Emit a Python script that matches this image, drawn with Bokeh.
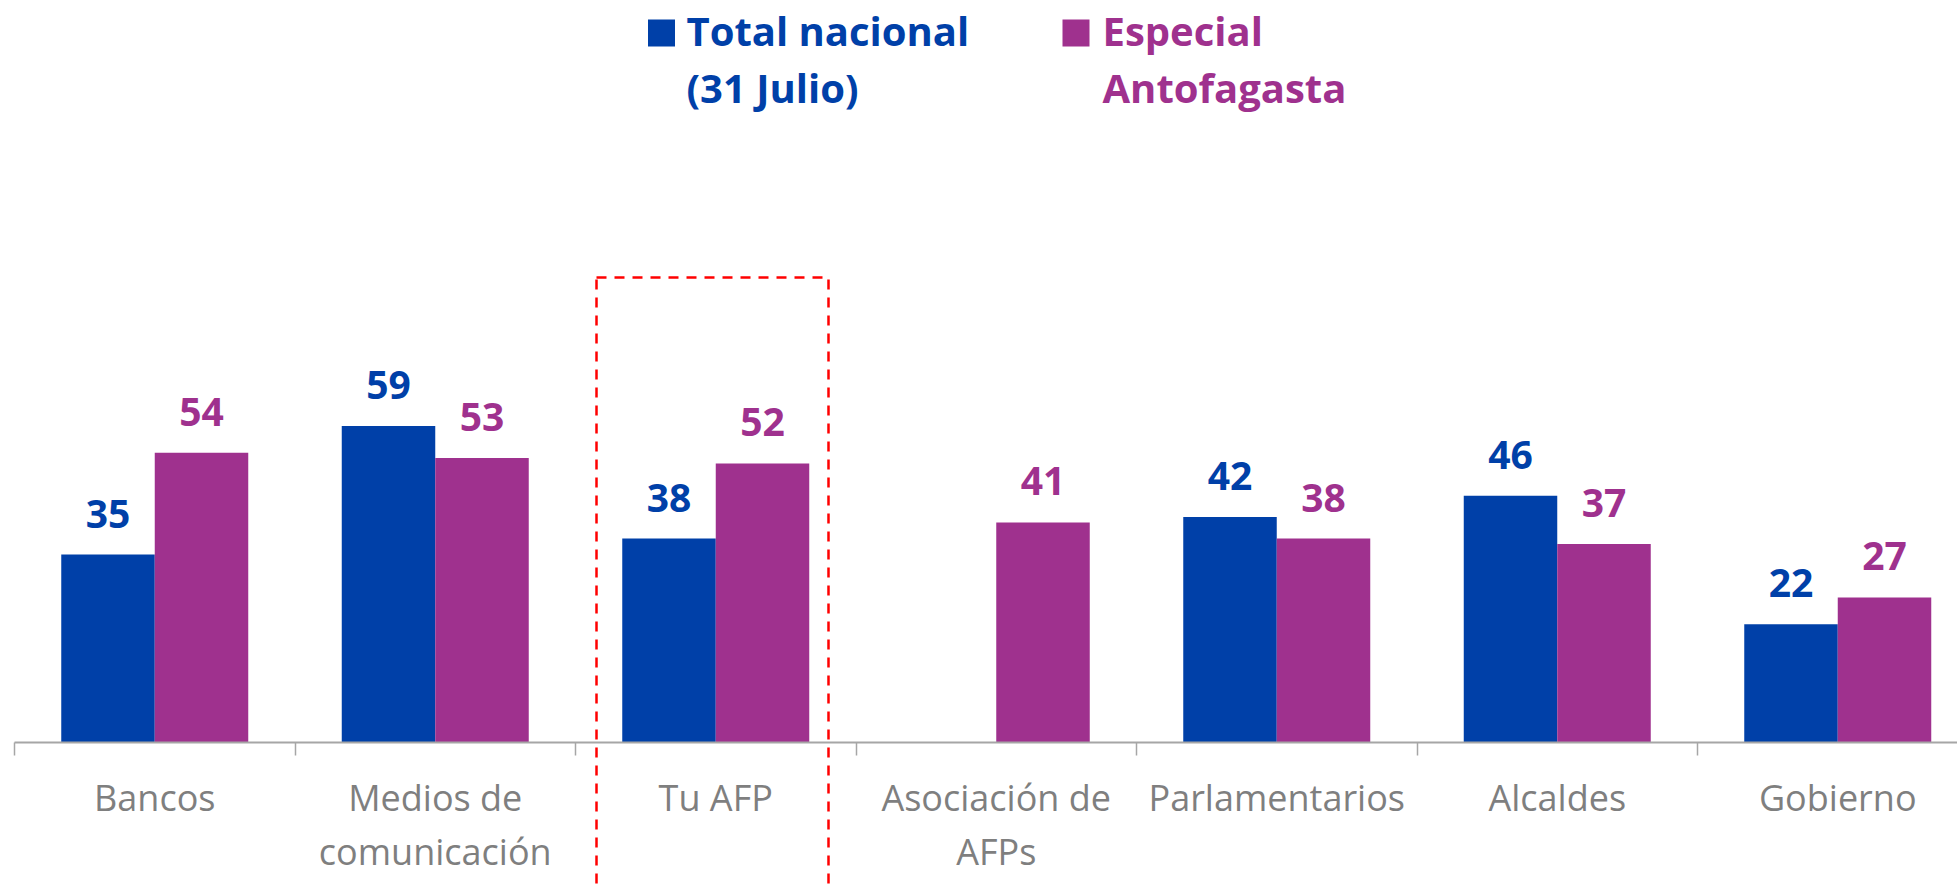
from bokeh.plotting import figure
from bokeh.models import (ColumnDataSource, Range1d, LinearAxis, FixedTicker,
                          Label, BoxAnnotation)
from bokeh.core.properties import value
from bokeh.embed import file_html
from bokeh.resources import INLINE

# ---------------- data ----------------
categories = ["Bancos", "Medios de comunicación", "Tu AFP", "Asociación de AFPs",
              "Parlamentarios", "Alcaldes", "Gobierno"]
tick_labels = ["Bancos", "Medios de\ncomunicación", "Tu AFP", "Asociación de\nAFPs",
               "Parlamentarios", "Alcaldes", "Gobierno"]
total_nacional = [35, 59, 38, None, 42, 46, 22]
especial_antofagasta = [54, 53, 52, 41, 38, 37, 27]
series_names = [["Total nacional", "(31 Julio)"], ["Especial", "Antofagasta"]]

BLUE = "#0040A8"
PURPLE = "#9F318E"
GRAY = "#7F7F7F"
FONT = "Open Sans"

# ---------------- layout helpers (page pixels -> data) ----------------
W, H = 1957, 887          # figure size
OFF = 0                   # page offset of the figure
X0, CW = 14.0, 280.5      # page x of first category boundary, category width
AXIS_Y, PPU = 741.7, 5.36  # page y of the value 0, pixels per unit
TXT_FIX = 16              # correction for the text baseline placement


def dx(px):
    return (px - X0) / CW


def dy(py):
    return (AXIS_Y - py) / PPU


p = figure(width=W, height=H, output_backend="svg", toolbar_location=None,
           x_range=Range1d(dx(OFF), dx(OFF + W)), y_range=Range1d(dy(OFF + H), dy(OFF)),
           x_axis_location=None, y_axis_location=None, min_border=0)
p.title.visible = False
p.outline_line_color = None
p.xgrid.visible = False
p.ygrid.visible = False
p.background_fill_color = "white"
p.border_fill_color = "white"

n = len(categories)
centers = [i + 0.5 for i in range(n)]
bw = 1 / 3

blue_x = [c - bw / 2 for c, v in zip(centers, total_nacional) if v is not None]
blue_v = [v for v in total_nacional if v is not None]
purp_x = [c + bw / 2 for c in centers]
purp_v = especial_antofagasta

src_b = ColumnDataSource(dict(x=blue_x, top=blue_v, lab=[str(v) for v in blue_v]))
src_p = ColumnDataSource(dict(x=purp_x, top=purp_v, lab=[str(v) for v in purp_v]))

p.vbar(x="x", top="top", bottom=0, width=bw, source=src_b, fill_color=BLUE, line_color=None)
p.vbar(x="x", top="top", bottom=0, width=bw, source=src_p, fill_color=PURPLE, line_color=None)

for src, col in ((src_b, BLUE), (src_p, PURPLE)):
    p.text(x="x", y="top", text="lab", source=src, text_align="center",
           text_baseline="alphabetic", y_offset=-25 - TXT_FIX, text_color=col,
           text_font=value(FONT), text_font_style="bold", text_font_size="39px")

# ---------------- category axis ----------------
ax = LinearAxis(fixed_location=0, bounds=(0, n))
ax.ticker = FixedTicker(ticks=centers, minor_ticks=list(range(n + 1)))
ax.major_label_overrides = {c: t for c, t in zip(centers, tick_labels)}
ax.major_tick_in = 0
ax.major_tick_out = 0
ax.minor_tick_in = 0
ax.minor_tick_out = 13
ax.minor_tick_line_color = "#A6A6A6"
ax.minor_tick_line_width = 1.5
ax.axis_line_color = "#A6A6A6"
ax.axis_line_width = 2
ax.major_label_text_font = FONT
ax.major_label_text_font_size = "36px"
ax.major_label_text_color = GRAY
ax.major_label_text_line_height = 1.1
ax.major_label_standoff = 18
ax.major_label_orientation = "horizontal"
p.add_layout(ax, "below")

# ---------------- highlight box around "Tu AFP" ----------------
p.add_layout(BoxAnnotation(left=dx(596), right=dx(828), top=dy(277), bottom=dy(960),
                           fill_alpha=0, line_color="#FF0000", line_alpha=1, line_width=2.5,
                           line_dash="10 8"))

# ---------------- legend ----------------
legend_specs = [(BLUE, 647.5, 686), (PURPLE, 1062, 1102)]
for (col, sq_x, tx), lines in zip(legend_specs, series_names):
    p.add_layout(BoxAnnotation(left=dx(sq_x), right=dx(sq_x + 27), top=dy(19), bottom=dy(46),
                               fill_color=col, fill_alpha=1, line_color=None))
    for line, base in zip(lines, (46, 103)):
        p.add_layout(Label(x=dx(tx), y=dy(base - TXT_FIX), text=line, text_color=col,
                           text_font=FONT, text_font_style="bold", text_font_size="40px",
                           text_baseline="alphabetic", text_align="left"))

open("out.html", "w").write(file_html(p, INLINE))
